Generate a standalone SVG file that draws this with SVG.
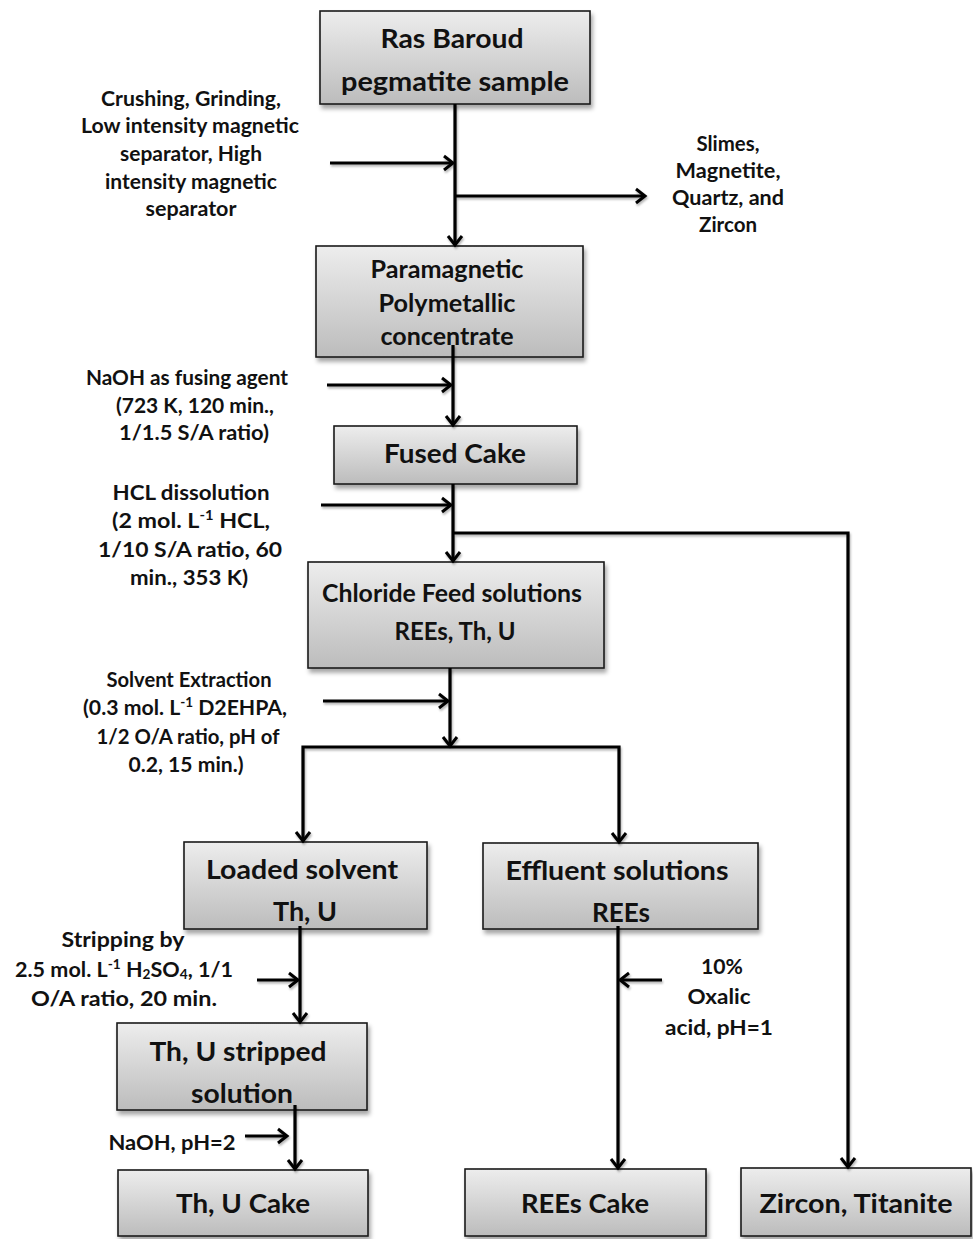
<svg xmlns="http://www.w3.org/2000/svg" width="973" height="1239" viewBox="0 0 973 1239">
<style>
text{font-family:Lato,"Liberation Sans",sans-serif;font-weight:bold;fill:#111;text-anchor:middle}
.bx{fill:url(#g);stroke:#1a1a1a;stroke-width:1.6;filter:url(#sh)}
.big{font-size:27px}
.mid{font-size:24.5px}
.lab{font-size:20.5px}
.c{fill:none;stroke:#000;stroke-width:3.2}
.a{marker-end:url(#ar)}
</style>
<defs>
<linearGradient id="g" x1="0" y1="0" x2="0" y2="1">
<stop offset="0" stop-color="#ededed"/>
<stop offset="1" stop-color="#bcbcbc"/>
</linearGradient>
<filter id="sh" x="-10%" y="-10%" width="125%" height="135%">
<feDropShadow dx="2" dy="4" stdDeviation="2" flood-color="#000" flood-opacity="0.35"/>
</filter>
<filter id="lsh" x="-10%" y="-50%" width="120%" height="200%">
<feDropShadow dx="1" dy="2" stdDeviation="1" flood-color="#000" flood-opacity="0.3"/>
</filter>
<marker id="ar" markerUnits="userSpaceOnUse" markerWidth="16" markerHeight="18" viewBox="0 0 16 18" refX="12" refY="9" orient="auto">
<path d="M3,2 L12,9 L3,16" fill="none" stroke="#000" stroke-width="3"/>
</marker>
<marker id="ars" markerUnits="userSpaceOnUse" markerWidth="16" markerHeight="18" viewBox="0 0 16 18" refX="12" refY="9" orient="auto-start-reverse">
<path d="M3,2 L12,9 L3,16" fill="none" stroke="#000" stroke-width="3"/>
</marker>
</defs>

<g id="n-ras">
<rect class="bx" x="320" y="11" width="270" height="93"/>
<text class="big" x="452" y="48" textLength="143" lengthAdjust="spacingAndGlyphs">Ras Baroud</text>
<text class="big" x="455" y="91" textLength="228" lengthAdjust="spacingAndGlyphs">pegmatite sample</text>
</g>
<g id="n-para">
<rect class="bx" x="316" y="246" width="267" height="111"/>
<text class="mid" x="447" y="278" textLength="153" lengthAdjust="spacingAndGlyphs">Paramagnetic</text>
<text class="mid" x="447" y="312" textLength="137" lengthAdjust="spacingAndGlyphs">Polymetallic</text>
<text class="mid" x="447" y="345" textLength="133" lengthAdjust="spacingAndGlyphs">concentrate</text>
</g>
<g id="n-fused">
<rect class="bx" x="334" y="426" width="243" height="58"/>
<text class="big" x="455" y="463" textLength="142" lengthAdjust="spacingAndGlyphs">Fused Cake</text>
</g>
<g id="n-chloride">
<rect class="bx" x="308" y="562" width="296" height="106"/>
<text class="mid" x="452" y="602" textLength="260" lengthAdjust="spacingAndGlyphs">Chloride Feed solutions</text>
<text class="mid" x="455" y="640" textLength="121" lengthAdjust="spacingAndGlyphs">REEs, Th, U</text>
</g>
<g id="n-loaded">
<rect class="bx" x="184" y="842" width="243" height="87"/>
<text class="big" x="302" y="879" textLength="192" lengthAdjust="spacingAndGlyphs">Loaded solvent</text>
<text class="big" x="305" y="921" textLength="64" lengthAdjust="spacingAndGlyphs">Th, U</text>
</g>
<g id="n-effluent">
<rect class="bx" x="483" y="843" width="275" height="86"/>
<text class="big" x="617" y="880" textLength="223" lengthAdjust="spacingAndGlyphs">Effluent solutions</text>
<text class="big" x="621" y="922" textLength="58" lengthAdjust="spacingAndGlyphs">REEs</text>
</g>
<g id="n-stripped">
<rect class="bx" x="117" y="1023" width="250" height="87"/>
<text class="big" x="238" y="1061" textLength="177" lengthAdjust="spacingAndGlyphs">Th, U stripped</text>
<text class="big" x="242" y="1103" textLength="102" lengthAdjust="spacingAndGlyphs">solution</text>
</g>
<g id="n-thucake">
<rect class="bx" x="118" y="1170" width="250" height="66"/>
<text class="big" x="243" y="1213" textLength="134" lengthAdjust="spacingAndGlyphs">Th, U Cake</text>
</g>
<g id="n-reescake">
<rect class="bx" x="465" y="1169" width="241" height="67"/>
<text class="big" x="585" y="1213" textLength="128" lengthAdjust="spacingAndGlyphs">REEs Cake</text>
</g>
<g id="n-zircon">
<rect class="bx" x="741" y="1168" width="230" height="68"/>
<text class="big" x="856" y="1213" textLength="193" lengthAdjust="spacingAndGlyphs">Zircon, Titanite</text>
</g>

<g id="labels">
<g id="l-crush">
<text class="lab" x="191" y="106" textLength="180" lengthAdjust="spacingAndGlyphs">Crushing, Grinding,</text>
<text class="lab" x="190" y="133" textLength="218" lengthAdjust="spacingAndGlyphs">Low intensity magnetic</text>
<text class="lab" x="191" y="161" textLength="142" lengthAdjust="spacingAndGlyphs">separator, High</text>
<text class="lab" x="191" y="189" textLength="172" lengthAdjust="spacingAndGlyphs">intensity magnetic</text>
<text class="lab" x="191" y="216" textLength="91" lengthAdjust="spacingAndGlyphs">separator</text>
</g>
<g id="l-slimes">
<text class="lab" x="728" y="151" textLength="63" lengthAdjust="spacingAndGlyphs">Slimes,</text>
<text class="lab" x="728" y="178" textLength="105" lengthAdjust="spacingAndGlyphs">Magnetite,</text>
<text class="lab" x="728" y="205" textLength="112" lengthAdjust="spacingAndGlyphs">Quartz, and</text>
<text class="lab" x="728" y="232" textLength="58" lengthAdjust="spacingAndGlyphs">Zircon</text>
</g>
<g id="l-naoh">
<text class="lab" x="187" y="385" textLength="202" lengthAdjust="spacingAndGlyphs">NaOH as fusing agent</text>
<text class="lab" x="195" y="413" textLength="158" lengthAdjust="spacingAndGlyphs">(723 K, 120 min.,</text>
<text class="lab" x="194" y="440" textLength="150" lengthAdjust="spacingAndGlyphs">1/1.5 S/A ratio)</text>
</g>
<g id="l-hcl">
<text class="lab" x="191" y="500" textLength="157" lengthAdjust="spacingAndGlyphs">HCL dissolution</text>
<text class="lab" x="191" y="528" textLength="158" lengthAdjust="spacingAndGlyphs">(2 mol. L<tspan font-size="13" baseline-shift="super">-1</tspan> HCL,</text>
<text class="lab" x="190" y="557" textLength="184" lengthAdjust="spacingAndGlyphs">1/10 S/A ratio, 60</text>
<text class="lab" x="189" y="585" textLength="118" lengthAdjust="spacingAndGlyphs">min., 353 K)</text>
</g>
<g id="l-se">
<text class="lab" x="189" y="687" textLength="165" lengthAdjust="spacingAndGlyphs">Solvent Extraction</text>
<text class="lab" x="185" y="715" textLength="204" lengthAdjust="spacingAndGlyphs">(0.3 mol. L<tspan font-size="13" baseline-shift="super">-1</tspan> D2EHPA,</text>
<text class="lab" x="188" y="744" textLength="183" lengthAdjust="spacingAndGlyphs">1/2 O/A ratio, pH of</text>
<text class="lab" x="186" y="772" textLength="115" lengthAdjust="spacingAndGlyphs">0.2, 15 min.)</text>
</g>
<g id="l-strip">
<text class="lab" x="123" y="947" textLength="123" lengthAdjust="spacingAndGlyphs">Stripping by</text>
<text class="lab" x="124" y="977" textLength="218" lengthAdjust="spacingAndGlyphs">2.5 mol. L<tspan font-size="13" baseline-shift="super">-1</tspan> H<tspan font-size="13" baseline-shift="-2">2</tspan>SO<tspan font-size="13" baseline-shift="-2">4</tspan>, 1/1</text>
<text class="lab" x="124" y="1006" textLength="186" lengthAdjust="spacingAndGlyphs">O/A ratio, 20 min.</text>
</g>
<g id="l-naoh2">
<text class="lab" x="172" y="1150" textLength="127" lengthAdjust="spacingAndGlyphs">NaOH, pH=2</text>
</g>
<g id="l-oxalic">
<text class="lab" x="722" y="974" textLength="42" lengthAdjust="spacingAndGlyphs">10%</text>
<text class="lab" x="719" y="1004" textLength="63" lengthAdjust="spacingAndGlyphs">Oxalic</text>
<text class="lab" x="719" y="1035" textLength="108" lengthAdjust="spacingAndGlyphs">acid, pH=1</text>
</g>
</g>

<g id="connectors" filter="url(#lsh)">
<path class="c a" d="M455,104 V245"/>
<path class="c a" d="M330,163 H453"/>
<path class="c a" d="M455,196 H645"/>
<path class="c a" d="M453,345 V425"/>
<path class="c a" d="M327,385 H451"/>
<path class="c a" d="M453,484 V561"/>
<path class="c a" d="M321,505 H451"/>
<path class="c a" d="M453,533 H848 V1167"/>
<path class="c a" d="M450,668 V746"/>
<path class="c a" d="M323,701 H448"/>
<path class="c a" style="marker-start:url(#ars)" d="M303,841 V747 H619 V842"/>
<path class="c a" d="M300,926 V1022"/>
<path class="c a" d="M257,980 H298"/>
<path class="c a" d="M618,926 V1168"/>
<path class="c a" d="M662,980 H620"/>
<path class="c a" d="M295,1105 V1169"/>
<path class="c a" d="M245,1136 H287"/>
</g>
</svg>
